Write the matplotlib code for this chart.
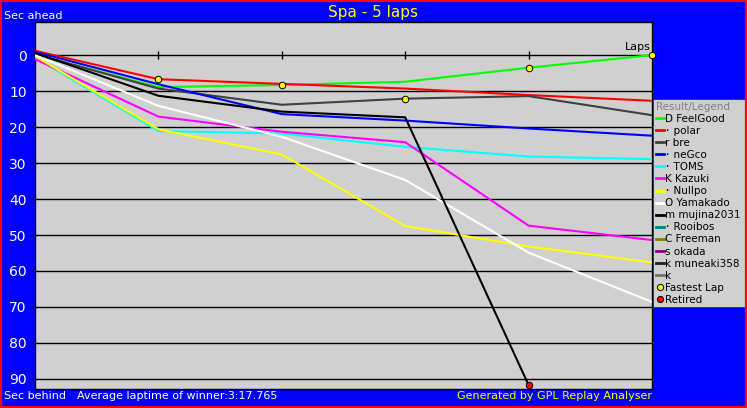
import matplotlib
matplotlib.use('Agg')
import matplotlib.pyplot as plt
from matplotlib.lines import Line2D
from matplotlib.patches import Rectangle

plt.rcParams['font.family'] = ['DejaVu Sans', 'Noto Sans CJK JP']

# gap to the leader (sec) at the end of each lap
laps = [0, 1, 2, 3, 4, 5]
feelgood = [-0.1, 8.9, 8.3, 7.4, 3.5, 0.0]
polar = [-1.2, 6.7, 8.0, 9.3, 11.1, 12.7]
bre = [-0.3, 9.3, 13.8, 12.1, 11.4, 16.7]
negco = [-0.9, 8.1, 16.4, 18.2, 20.4, 22.4]
toms = [0.6, 21.1, 21.8, 25.5, 28.2, 28.9]
kazuki = [1.1, 17.1, 21.3, 24.2, 47.4, 51.4]
nullpo = [0.3, 20.6, 27.6, 47.5, 53.2, 57.6]
yamakado = [0.0, 14.1, 22.7, 34.7, 54.9, 68.6]
mujina = [-0.6, 11.3, 15.7, 17.3, 91.7]   # retired on lap 4

fastest_laps = [1, 2, 3, 4, 5]
fastest_gaps = [6.7, 8.3, 12.1, 3.5, 0.0]
retired_laps = [4]
retired_gaps = [91.7]

names = ['D FeelGood', '･ polar', 'r bre', '･ neGco', '･ TOMS', 'K Kazuki',
         '･ Nullpo', 'O Yamakado', 'm mujina2031', '･ Rooibos', 'C Freeman',
         's okada', 'k muneaki358', 'k']
colors = ['#00FF00', '#FF0000', '#404040', '#0000FF', '#00FFFF', '#FF00FF',
          '#FFFF00', '#FFFFFF', '#000000', '#008080', '#808000', '#800080',
          '#202020', '#707070']
series = [feelgood, polar, bre, negco, toms, kazuki, nullpo, yamakado, mujina]

fig = plt.figure(figsize=(7.47, 4.08), dpi=100, facecolor='#0000FF')
ax = fig.add_axes([35 / 747, 1 - 389 / 408, 617 / 747, 367 / 408])
ax.set_facecolor('#D0D0D0')

for vals, c in zip(series, colors):
    ax.plot(laps[:len(vals)], vals, color=c, lw=1.5, zorder=3)

ax.scatter(fastest_laps, fastest_gaps, s=22, marker='o', color='#FFFF00',
           edgecolor='black', linewidth=0.7, zorder=5, clip_on=False)
ax.scatter(retired_laps, retired_gaps, s=22, marker='o', color='#FF0000',
           edgecolor='black', linewidth=0.7, zorder=5, clip_on=False)

# lap ticks on the zero line
ax.plot(laps[1:5], [0] * 4, ls='none', marker='|', ms=6, mew=1, color='black', zorder=2)

ax.set_xlim(0, 5)
ax.set_ylim(92.8, -9.2)
ax.set_yticks(range(0, 100, 10))
ax.set_xticks([])
ax.yaxis.grid(True, color='black', lw=1)
ax.set_axisbelow(True)
ax.tick_params(axis='y', colors='black', labelcolor='white', labelsize=10,
               length=3, width=1, pad=3)
for s in ax.spines.values():
    s.set_color('black')
    s.set_linewidth(1)

ax.text(4.99, -0.8, 'Laps', ha='right', va='bottom', fontsize=8, color='black')

fig.text(0.5, 1 - 12 / 408, 'Spa - 5 laps', ha='center', va='center',
         fontsize=11, color='#FFFF00')
fig.text(4 / 747, 1 - 16 / 408, 'Sec ahead', ha='left', va='center',
         fontsize=8, color='white')
fig.text(4 / 747, 1 - 396 / 408, 'Sec behind', ha='left', va='center',
         fontsize=8, color='white')
fig.text(77 / 747, 1 - 396 / 408, 'Average laptime of winner:3:17.765',
         ha='left', va='center', fontsize=8, color='white')
fig.text(652 / 747, 1 - 396 / 408, 'Generated by GPL Replay Analyser',
         ha='right', va='center', fontsize=8, color='#FFFF00')

handles = [Line2D([], [], color=c, lw=2) for c in colors]
handles.append(Line2D([], [], ls='none', marker='o', ms=4.5, mfc='#FFFF00', mec='black', mew=0.7))
handles.append(Line2D([], [], ls='none', marker='o', ms=4.5, mfc='#FF0000', mec='black', mew=0.7))
labels = names + ['Fastest Lap', 'Retired']
leg = fig.legend(handles, labels, loc='upper left',
                 bbox_to_anchor=(654 / 747, 1 - 307 / 408, 91 / 747, 207 / 408),
                 mode='expand', borderaxespad=0, fontsize=7.5,
                 title='Result/Legend', title_fontsize=7.5, alignment='left',
                 frameon=True, fancybox=False, facecolor='#D0D0D0',
                 edgecolor='#D0D0D0', framealpha=1, borderpad=0.15,
                 handlelength=0.8, handletextpad=0.15, labelspacing=0.2)
leg.get_title().set_color('#808080')

fig.add_artist(Rectangle((0, 0), 1, 1, transform=fig.transFigure, fill=False,
                         edgecolor='#FF0000', linewidth=3, zorder=10))

fig.savefig('out.png', dpi=100, facecolor=fig.get_facecolor())
